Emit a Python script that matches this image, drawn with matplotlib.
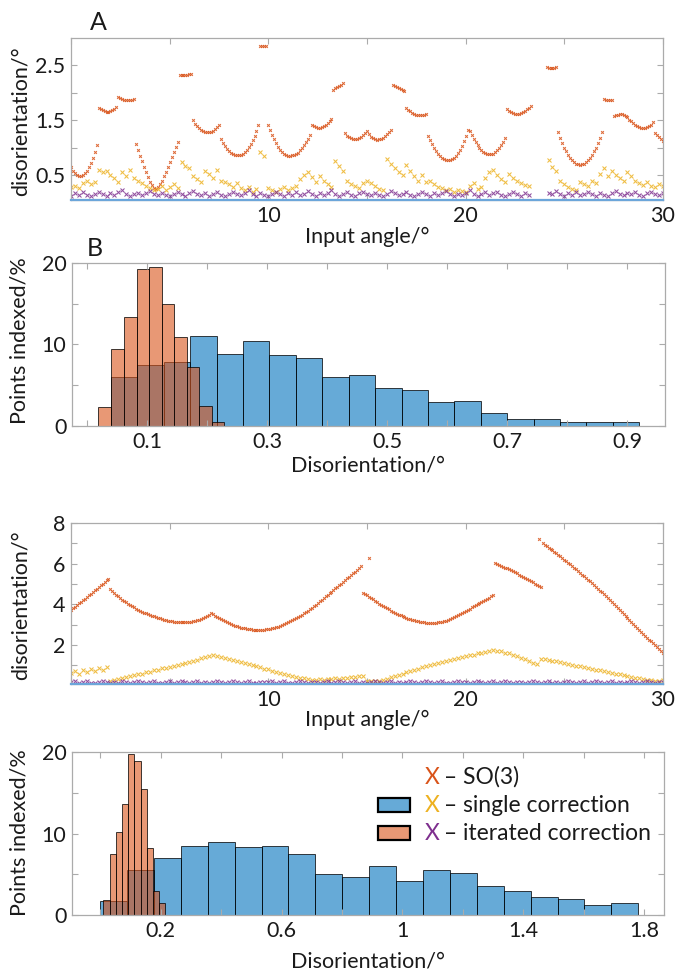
import numpy as np
import matplotlib
matplotlib.use("Agg")
import matplotlib.pyplot as plt
from matplotlib.patches import Rectangle

plt.rcParams['font.family'] = ['Lato', 'DejaVu Sans']

nan = np.nan

# ---------------- data ----------------
# input angles (deg): fine grid for SO(3) series, coarse grid for corrected series
angle_fine = np.round(np.arange(301) * 0.1, 1)
angle_coarse = np.round(np.arange(151) * 0.2, 1)

# Panel A: disorientation (deg)
so3_A = [
    0.64, 0.58, 0.53, 0.50, 0.48, 0.48, 0.50, 0.53, 0.58, 0.64, 0.72, 0.81, 0.92, 1.05,
    1.72, 1.70, 1.68, 1.66, 1.65, 1.65, 1.66, 1.68, 1.71, 1.75,
    1.93, 1.91, 1.89, 1.87, 1.86, 1.86, 1.86, 1.87, 1.88,
    1.06, 0.96, 0.85, 0.75, 0.65, 0.56, 0.47, 0.38, 0.31, 0.26, 0.25, 0.28, 0.33, 0.40,
    0.48, 0.56, 0.65, 0.74, 0.83, 0.92, 1.01, 1.10,
    2.33, 2.32, 2.32, 2.32, 2.33, 2.34, 2.35,
    1.50, 1.44, 1.39, 1.35, 1.32, 1.30, 1.29, 1.28, 1.28, 1.29, 1.31, 1.34, 1.37, 1.41,
    1.15, 1.09, 1.03, 0.98, 0.94, 0.91, 0.89, 0.87, 0.86, 0.86, 0.87, 0.89, 0.92, 0.96,
    1.01, 1.07, 1.14, 1.22, 1.31, 1.41,
    2.86, 2.85, 2.85, 2.86,
    1.42, 1.32, 1.23, 1.15, 1.08, 1.02, 0.96, 0.92, 0.89, 0.87, 0.85, 0.85, 0.86, 0.87,
    0.89, 0.91, 0.95, 0.99, 1.04, 1.10, 1.16, 1.23,
    1.41, 1.39, 1.37, 1.36, 1.36, 1.37, 1.39, 1.42, 1.45, 1.48, 1.52,
    2.05, 2.08, 2.10, 2.13, 2.15, 2.18,
    1.26, 1.22, 1.19, 1.17, 1.15, 1.15, 1.16, 1.18, 1.20, 1.23, 1.27, 1.30,
    1.25, 1.20, 1.17, 1.15, 1.14, 1.15, 1.16, 1.18, 1.21, 1.24, 1.28, 1.32,
    2.15, 2.13, 2.11, 2.09, 2.07, 2.05, 2.03,
    1.72, 1.69, 1.66, 1.64, 1.62, 1.60, 1.59, 1.59, 1.59, 1.60, 1.61,
    1.22, 1.14, 1.06, 1.00, 0.94, 0.89, 0.85, 0.82, 0.79, 0.78, 0.77, 0.77, 0.79, 0.81,
    0.85, 0.90, 0.96, 1.03, 1.12, 1.21, 1.32,
    1.31, 1.23, 1.16, 1.10, 1.04, 0.99, 0.96, 0.92, 0.90, 0.89, 0.88, 0.88, 0.89, 0.92,
    0.95, 0.99, 1.04, 1.10, 1.17,
    1.70, 1.67, 1.65, 1.63, 1.62, 1.62, 1.62, 1.63, 1.65, 1.67, 1.70, 1.73, 1.76,
    nan, nan, nan, nan, nan, nan, nan,
    2.47, 2.46, 2.46, 2.46, 2.46, 2.47,
    1.28, 1.18, 1.09, 1.00, 0.93, 0.87, 0.81, 0.77, 0.73, 0.71, 0.70, 0.69, 0.70, 0.71,
    0.73, 0.77, 0.81, 0.87, 0.93, 1.00, 1.09, 1.18, 1.28,
    1.88, 1.87, 1.86, 1.86, 1.87,
    1.57, 1.59, 1.60, 1.61, 1.61, 1.60,
    1.58, 1.55, 1.51, 1.48, 1.45, 1.42, 1.40, 1.38, 1.36, 1.35, 1.35, 1.37, 1.39, 1.42, 1.46,
    1.26, 1.23, 1.19, 1.16, 1.12,
]
single_A = [
    0.28, 0.30, 0.26, 0.36, 0.40, 0.34, 0.38, 0.60, 0.55, 0.58,
    0.50, 0.44, 0.38, 0.56, 0.48, 0.60, 0.45, 0.40, 0.36, 0.30,
    0.26, 0.22, 0.25, 0.30, 0.22, 0.28, 0.33, 0.27, 0.74, 0.66,
    0.62, 0.48, 0.42, 0.38, 0.58, 0.52, 0.45, 0.60, 0.40, 0.38,
    0.33, 0.28, 0.35, 0.26, 0.22, 0.28, 0.20, 0.24, 0.92, 0.84,
    0.26, 0.22, 0.20, 0.25, 0.28, 0.22, 0.26, 0.30, 0.42, 0.50,
    0.55, 0.46, 0.38, 0.48, 0.40, 0.33, 0.28, 0.76, 0.66, 0.58,
    0.40, 0.34, 0.30, 0.27, 0.36, 0.40, 0.36, 0.30, 0.25, 0.23,
    0.80, 0.70, 0.62, 0.55, 0.50, 0.68, 0.58, 0.48, 0.40, 0.50,
    0.38, 0.40, 0.33, 0.28, 0.26, 0.22, 0.25, 0.20, 0.23, 0.21,
    0.20, 0.30, 0.35, 0.24, 0.28, 0.45, 0.55, 0.60, 0.50, 0.42,
    0.38, 0.52, 0.45, 0.40, 0.35, 0.32, 0.30, nan, nan, nan,
    nan, 0.78, 0.65, 0.58, 0.40, 0.33, 0.28, 0.24, 0.23, 0.38,
    0.34, 0.30, 0.40, 0.36, 0.52, 0.62, 0.48, 0.58, 0.50, 0.45,
    0.40, 0.55, 0.48, 0.40, 0.35, 0.32, 0.38, 0.30, 0.28, 0.34,
    0.30,
]
iterated_A = [
    0.12, 0.17, 0.14, 0.19, 0.13, 0.11, 0.16, 0.20, 0.15, 0.12,
    0.17, 0.14, 0.19, 0.22, 0.16, 0.12, 0.15, 0.18, 0.13, 0.17,
    0.21, 0.16, 0.13, 0.18, 0.14, 0.11, 0.16, 0.19, 0.15, 0.12,
    0.18, 0.21, 0.15, 0.13, 0.17, 0.12, 0.16, 0.20, 0.14, 0.11,
    0.15, 0.19, 0.16, 0.13, 0.18, 0.22, 0.15, 0.12, 0.17, 0.14,
    0.11, 0.16, 0.20, 0.15, 0.12, 0.18, 0.14, 0.19, 0.13, 0.16,
    0.21, 0.15, 0.12, 0.17, 0.13, 0.18, 0.22, 0.16, 0.12, 0.15,
    0.19, 0.14, 0.11, 0.17, 0.20, 0.15, 0.13, 0.18, 0.14, 0.12,
    0.16, 0.21, 0.17, 0.13, 0.15, 0.19, 0.14, 0.11, 0.16, 0.20,
    0.15, 0.12, 0.18, 0.14, 0.17, 0.21, 0.15, 0.12, 0.16, 0.13,
    0.18, 0.22, 0.16, 0.12, 0.15, 0.19, 0.13, 0.17, 0.20, 0.14,
    0.11, 0.16, 0.19, 0.15, 0.12, 0.17, 0.14, nan, nan, nan,
    nan, 0.18, 0.15, 0.21, 0.16, 0.12, 0.17, 0.14, 0.19, 0.13,
    0.16, 0.20, 0.15, 0.12, 0.18, 0.14, 0.11, 0.17, 0.21, 0.16,
    0.13, 0.18, 0.15, 0.20, 0.14, 0.12, 0.17, 0.19, 0.15, 0.13,
    0.17,
]

# Panel C: disorientation (deg)
so3_C = [
    3.72, 3.80, 3.88, 3.96, 4.04, 4.12, 4.20, 4.28, 4.36, 4.44,
    4.52, 4.60, 4.68, 4.76, 4.84, 4.93, 5.01, 5.09, 5.17, 5.25,
    4.73, 4.64, 4.55, 4.47, 4.38, 4.30, 4.23, 4.16, 4.09, 4.02,
    3.96, 3.90, 3.84, 3.78, 3.73, 3.68, 3.63, 3.59, 3.55, 3.51,
    3.47, 3.43, 3.40, 3.36, 3.33, 3.30, 3.27, 3.24, 3.22, 3.19,
    3.17, 3.15, 3.13, 3.12, 3.11, 3.10, 3.10, 3.10, 3.10, 3.11,
    3.12, 3.14, 3.16, 3.19, 3.21, 3.24, 3.28, 3.32, 3.36, 3.40, 3.45,
    3.58, 3.50, 3.43, 3.37, 3.31, 3.25, 3.20, 3.15, 3.10, 3.06,
    3.02, 2.98, 2.94, 2.91, 2.88, 2.85, 2.83, 2.81, 2.79, 2.77,
    2.76, 2.75, 2.74, 2.73, 2.73, 2.73, 2.74, 2.75, 2.76, 2.77,
    2.79, 2.81, 2.84, 2.87, 2.90, 2.94, 2.98, 3.02, 3.06, 3.11,
    3.16, 3.20, 3.25, 3.31, 3.37, 3.43, 3.49, 3.55, 3.62, 3.69,
    3.76, 3.83, 3.90, 3.98, 4.06, 4.14, 4.22, 4.30, 4.38, 4.46,
    4.54, 4.62, 4.70, 4.78, 4.86, 4.94, 5.02, 5.10, 5.18, 5.27,
    5.35, 5.43, 5.52, 5.60, 5.69, 5.77, 5.86,
    4.57, 4.50, 4.44, 4.37, 4.31, 4.24, 4.17, 4.10, 4.03, 3.97,
    3.91, 3.85, 3.79, 3.74, 3.68, 3.63, 3.58, 3.53, 3.49, 3.45,
    3.41, 3.37, 3.33, 3.29, 3.26, 3.23, 3.20, 3.18, 3.16, 3.14,
    3.12, 3.10, 3.09, 3.08, 3.08, 3.08, 3.08, 3.09, 3.10, 3.12,
    3.14, 3.16, 3.19, 3.23, 3.27, 3.31, 3.36, 3.41, 3.46, 3.51,
    3.57, 3.62, 3.67, 3.73, 3.78, 3.84, 3.89, 3.95, 4.00, 4.06,
    4.11, 4.17, 4.22, 4.28, 4.33, 4.39, 4.44,
    6.03, 5.98, 5.93, 5.89, 5.84, 5.80, 5.76, 5.72, 5.67, 5.62,
    5.57, 5.52, 5.46, 5.40, 5.35, 5.29, 5.24, 5.18, 5.13, 5.07,
    5.01, 4.96, 4.90, 4.84,
    7.00, 6.93, 6.86, 6.79, 6.72, 6.65, 6.57, 6.50, 6.42, 6.35,
    6.27, 6.20, 6.12, 6.04, 5.96, 5.88, 5.80, 5.71, 5.63, 5.55,
    5.46, 5.38, 5.29, 5.21, 5.12, 5.03, 4.94, 4.85, 4.76, 4.67,
    4.58, 4.49, 4.39, 4.30, 4.21, 4.11, 4.02, 3.92, 3.83, 3.73,
    3.63, 3.53, 3.43, 3.33, 3.23, 3.13, 3.03, 2.93, 2.83, 2.73,
    2.63, 2.53, 2.44, 2.35, 2.26, 2.17, 2.08, 1.98, 1.89, 1.80,
    1.71, 1.62,
]
so3_C_extra_angle = [15.1, 23.7]
so3_C_extra = [6.30, 7.21]
single_C = [
    0.60, 0.72, 0.58, 0.78, 0.65, 0.82, 0.70, 0.88, 0.75, 0.90,
    0.22, 0.28, 0.30, 0.38, 0.40, 0.47, 0.50, 0.56, 0.58, 0.66,
    0.68, 0.74, 0.76, 0.84, 0.86, 0.93, 0.95, 1.02, 1.05, 1.12,
    1.15, 1.22, 1.25, 1.33, 1.38, 1.47,
    1.52, 1.46, 1.42, 1.36, 1.32, 1.26, 1.22, 1.15, 1.11, 1.05,
    1.00, 0.94, 0.90, 0.83, 0.79, 0.72, 0.68, 0.62, 0.57, 0.52,
    0.47, 0.42, 0.38,
    0.36, 0.32, 0.28, 0.26, 0.30, 0.27, 0.32, 0.30, 0.35, 0.33,
    0.38, 0.36, 0.42, 0.40, 0.46, 0.44, 0.22, 0.20, 0.24, 0.22, 0.27,
    0.32, 0.40, 0.45, 0.53, 0.58, 0.66, 0.70, 0.78, 0.82, 0.90,
    0.95, 1.02, 1.05, 1.12, 1.14, 1.22, 1.24, 1.30, 1.33, 1.40,
    1.43, 1.50, 1.52, 1.58, 1.60, 1.66, 1.70, 1.76, 1.72,
    1.70, 1.62, 1.58, 1.50, 1.45, 1.36, 1.30, 1.20, 1.12, 1.05,
    1.32, 1.30, 1.26, 1.22, 1.18, 1.15, 1.10, 1.06, 1.02, 0.98,
    0.94, 0.90, 0.86, 0.82, 0.78, 0.74, 0.70, 0.66, 0.62, 0.58,
    0.54, 0.50, 0.46, 0.42, 0.38, 0.35, 0.32, 0.28, 0.25, 0.22,
    0.24, 0.26,
]
iterated_C = [
    0.15, 0.20, 0.13, 0.18, 0.22, 0.14, 0.11, 0.17, 0.21, 0.15,
    0.12, 0.18, 0.14, 0.20, 0.16, 0.12, 0.19, 0.23, 0.15, 0.13,
    0.17, 0.21, 0.14, 0.11, 0.16, 0.20, 0.13, 0.18, 0.22, 0.15,
    0.12, 0.17, 0.20, 0.14, 0.19, 0.13, 0.16, 0.21, 0.15, 0.12,
    0.18, 0.22, 0.16, 0.13, 0.17, 0.20, 0.14, 0.11, 0.16, 0.19,
    0.15, 0.21, 0.13, 0.17, 0.22, 0.14, 0.12, 0.18, 0.20, 0.15,
    0.13, 0.19, 0.16, 0.12, 0.17, 0.21, 0.14, 0.18, 0.23, 0.15,
    0.12, 0.16, 0.20, 0.14, 0.18, 0.13, 0.17, 0.22, 0.15, 0.11,
    0.16, 0.20, 0.14, 0.19, 0.13, 0.17, 0.21, 0.15, 0.12, 0.18,
    0.22, 0.16, 0.13, 0.17, 0.20, 0.14, 0.11, 0.16, 0.21, 0.15,
    0.19, 0.13, 0.17, 0.22, 0.15, 0.12, 0.18, 0.20, 0.14, 0.16,
    0.21, 0.15, 0.12, 0.17, 0.19, 0.13, 0.18, 0.22, 0.16, 0.12,
    0.15, 0.20, 0.14, 0.18, 0.13, 0.17, 0.21, 0.15, 0.11, 0.16,
    0.20, 0.14, 0.19, 0.23, 0.16, 0.12, 0.17, 0.20, 0.14, 0.18,
    0.13, 0.17, 0.21, 0.15, 0.12, 0.18, 0.22, 0.16, 0.13, 0.19,
    0.15,
]

# Panel B histograms: bin edges (deg) and points indexed (%)
B_single_edges = [0.040, 0.084, 0.128, 0.172, 0.216, 0.260, 0.304, 0.348, 0.392, 0.436,
                  0.480, 0.524, 0.568, 0.612, 0.656, 0.700, 0.744, 0.788, 0.832, 0.876, 0.920]
B_single_pct = [6.0, 7.5, 7.9, 11.0, 8.8, 10.4, 8.7, 8.3, 6.0, 6.2,
                4.7, 4.4, 2.9, 3.1, 1.6, 0.8, 0.8, 0.5, 0.5, 0.5]
B_iter_edges = [0.019, 0.040, 0.061, 0.083, 0.104, 0.125, 0.145, 0.166, 0.187, 0.208, 0.229]
B_iter_pct = [2.3, 9.5, 13.4, 19.3, 19.5, 15.0, 10.9, 7.3, 2.5, 0.5]

# Panel D histograms
D_single_edges = [0.000, 0.089, 0.178, 0.267, 0.356, 0.445, 0.534, 0.623, 0.712, 0.801,
                  0.890, 0.979, 1.068, 1.157, 1.246, 1.335, 1.424, 1.513, 1.602, 1.691, 1.780]
D_single_pct = [1.7, 5.5, 7.0, 8.5, 8.9, 8.3, 8.5, 7.5, 5.0, 4.7,
                6.0, 4.2, 5.5, 5.2, 3.5, 3.0, 2.2, 2.0, 1.2, 1.5]
D_iter_edges = [0.011, 0.0315, 0.052, 0.0725, 0.093, 0.1135, 0.134, 0.1545, 0.175, 0.1955, 0.216]
D_iter_pct = [1.8, 7.5, 10.2, 13.6, 19.7, 18.9, 15.5, 8.2, 3.0, 1.5]

legend_labels = ["– SO(3)", "– single correction", "– iterated correction"]

# ---------------- style ----------------
C_SO3 = (0.850, 0.325, 0.098)
C_SINGLE = (0.929, 0.694, 0.125)
C_ITER = (0.494, 0.184, 0.556)
C_BLUE = (0.000, 0.447, 0.741)
FACE_BLUE = C_BLUE + (0.6,)
FACE_ORANGE = C_SO3 + (0.6,)
EDGE = (0, 0, 0, 0.75)
SPINE = '#ABABAB'
TXT = '#1a1a1a'
FS = 15.5

W, H = 675, 974
fig = plt.figure(figsize=(W / 100, H / 100), dpi=100)


def px_axes(l, r, t, b):
    return fig.add_axes([l / W, 1 - b / H, (r - l) / W, (b - t) / H])


def style(ax):
    for s in ax.spines.values():
        s.set_color(SPINE)
        s.set_linewidth(0.9)
    ax.tick_params(direction='in', length=4, width=0.8, color=SPINE, top=True, right=True,
                   labelsize=FS, labelcolor=TXT, pad=4)


def set_ticks(ax, axis, ticks, labeled):
    labels = [(('%g' % t) if t in labeled else '') for t in ticks]
    if axis == 'x':
        ax.set_xticks(ticks)
        ax.set_xticklabels(labels)
    else:
        ax.set_yticks(ticks)
        ax.set_yticklabels(labels)


def scatter_panel(ax, so3, single, iterated, ylim):
    ax.plot(angle_fine, so3, ls='none', marker='x', ms=2.0, mew=0.75, color=C_SO3, alpha=0.85)
    ax.plot(angle_coarse, single, ls='none', marker='x', ms=2.2, mew=0.75, color=C_SINGLE, alpha=0.85)
    ax.plot(angle_coarse, iterated, ls='none', marker='x', ms=2.2, mew=0.75, color=C_ITER, alpha=0.85)
    ax.set_xlim(0, 30)
    ax.set_ylim(*ylim)
    ax.axhline(ylim[0], color='#6CA6DA', lw=1.6, zorder=3, clip_on=False)
    set_ticks(ax, 'x', [0, 5, 10, 15, 20, 25, 30], [10, 20, 30])


def hist_panel(ax, s_edges, s_pct, i_edges, i_pct, xlim):
    se = np.asarray(s_edges)
    ie = np.asarray(i_edges)
    ax.bar(se[:-1], s_pct, width=np.diff(se), align='edge', facecolor=FACE_BLUE,
           edgecolor=EDGE, linewidth=0.7)
    ax.bar(ie[:-1], i_pct, width=np.diff(ie), align='edge', facecolor=FACE_ORANGE,
           edgecolor=EDGE, linewidth=0.7)
    ax.set_xlim(*xlim)
    ax.set_ylim(0, 20)
    set_ticks(ax, 'y', [0, 5, 10, 15, 20], [0, 10, 20])


# Panel A
axA = px_axes(71, 663, 38, 200)
style(axA)
scatter_panel(axA, so3_A, single_A, iterated_A, (0.045, 3.0))
set_ticks(axA, 'y', [0.5, 1.0, 1.5, 2.0, 2.5], [0.5, 1.5, 2.5])

# Panel B
axB = px_axes(72, 665, 263, 426)
style(axB)
hist_panel(axB, B_single_edges, B_single_pct, B_iter_edges, B_iter_pct, (-0.025, 0.963))
bt = [round(0.1 * i, 1) for i in range(10)]
set_ticks(axB, 'x', bt, [0.1, 0.3, 0.5, 0.7, 0.9])

# Panel C
axC = px_axes(71, 663, 523, 684)
style(axC)
scatter_panel(axC, so3_C, single_C, iterated_C, (0.07, 8.0))
axC.plot(so3_C_extra_angle, so3_C_extra, ls='none', marker='x', ms=2.0, mew=0.75,
         color=C_SO3, alpha=0.85)
set_ticks(axC, 'y', [1, 2, 3, 4, 5, 6, 7, 8], [2, 4, 6, 8])

# Panel D
axD = px_axes(72, 664, 752, 915)
style(axD)
hist_panel(axD, D_single_edges, D_single_pct, D_iter_edges, D_iter_pct, (-0.093, 1.865))
dt = [round(0.2 * i, 1) for i in range(10)]
set_ticks(axD, 'x', dt, [0.2, 0.6, 1.0, 1.4, 1.8])


# legend (panel D)
def ax_xy(ax_l, ax_r, ax_t, ax_b, px, py):
    return (px - ax_l) / (ax_r - ax_l), (ax_b - py) / (ax_b - ax_t)


marker_cols = [C_SO3, C_SINGLE, C_ITER]
patch_faces = [None, FACE_BLUE, FACE_ORANGE]
row_y = [777, 805, 833]
LFS = 16.5
for lab, mc, pf, py in zip(legend_labels, marker_cols, patch_faces, row_y):
    xm, ym = ax_xy(72, 664, 752, 915, 432, py)
    axD.text(xm, ym, 'X', color=mc, fontsize=LFS, ha='center', va='center',
             transform=axD.transAxes)
    xt, _ = ax_xy(72, 664, 752, 915, 444, py)
    axD.text(xt, ym, lab, color=TXT, fontsize=LFS, ha='left', va='center',
             transform=axD.transAxes)
    if pf is not None:
        x0, y0 = ax_xy(72, 664, 752, 915, 378, py + 7)
        x1, y1 = ax_xy(72, 664, 752, 915, 410, py - 7)
        axD.add_patch(Rectangle((x0, y0), x1 - x0, y1 - y0, transform=axD.transAxes,
                                facecolor=pf, edgecolor='k', linewidth=1.6, zorder=5))


# axis labels
def ftext(px, py, s, **kw):
    fig.text(px / W, 1 - py / H, s, ha='center', va='center', color=TXT, fontsize=FS, **kw)


ftext(21, 121, 'disorientation/°', rotation=90)
ftext(20, 341, 'Points indexed/%', rotation=90)
ftext(21, 605, 'disorientation/°', rotation=90)
ftext(20, 833, 'Points indexed/%', rotation=90)
ftext(367, 237, 'Input angle/°')
ftext(368, 465, 'Disorientation/°')
ftext(367, 720, 'Input angle/°')
ftext(368, 961, 'Disorientation/°')
fig.text(98 / W, 1 - 23 / H, 'A', ha='center', va='center', fontsize=18, color=TXT)
fig.text(95 / W, 1 - 248 / H, 'B', ha='center', va='center', fontsize=18, color=TXT)

fig.savefig('out.png', dpi=100)
